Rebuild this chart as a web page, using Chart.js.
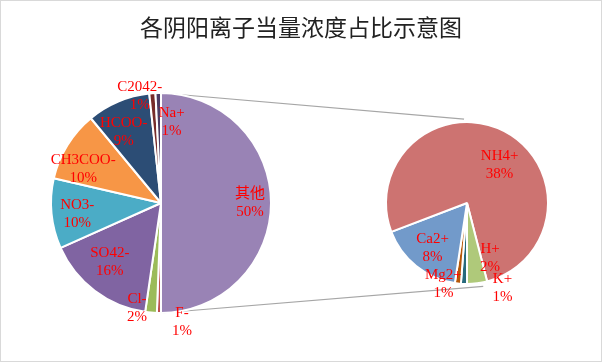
<!DOCTYPE html>
<html>
<head>
<meta charset="utf-8">
<script src="https://cdn.jsdelivr.net/npm/chart.js@4"></script>
<style>
  body { margin: 0; background: #fff; }
  #wrap { width: 602px; height: 362px; box-sizing: border-box; border: 1px solid #d9d9d9; }
  canvas { display: block; }
</style>
</head>
<body>
<div id="wrap"><canvas id="ionChart" width="600" height="360"></canvas></div>
<script>
const titleText = "各阴阳离子当量浓度占比示意图";
const otherLabel = "其他";
// first pie, clockwise after the "other" slice
const mainLabels = ["F-", "Cl-", "SO42-", "NO3-", "CH3COO-", "HCOO-", "C2042-", "Na+"];
const mainValues = [0.6, 1.7, 16.0, 10.3, 10.4, 9.3, 0.9, 0.8];
// second pie, clockwise from 6 o'clock
const subLabels = ["K+", "Mg2+", "Ca2+", "NH4+", "H+"];
const subValues = [0.6, 0.6, 8.4, 38.4, 2.0];

const otherColor = "#9983b5";
const mainColors = ["#c0504d", "#9bbb59", "#8064a2", "#4bacc6", "#f79646", "#2c4d75", "#772c2a", "#4d3b62"];
const subColors = ["#276a7c", "#b65708", "#729aca", "#cd7371", "#afc97a"];

// where the two pies sit on the canvas
const GEOM = {
  main: { x: 160, y: 202, r: 110 },
  sub: { x: 466, y: 202, r: 81 },
  linkTop: -92,
  linkBottom: 79
};

// label shifts from each slice's centre point
const mainNudge = [[34, 0], [22, 64], [-19, 50], [-18, 15], [-29, 6], [-31, -5], [-16, -20], [-17, -52], [12, -26]];
const subNudge = [[37, 45], [-19, 41], [-9, 14], [14, -2], [18, 15]];

const otherValue = subValues.reduce((s, v) => s + v, 0);
const grandTotal = otherValue + mainValues.reduce((s, v) => s + v, 0);
const labelFont = "15px 'Liberation Serif', 'Times New Roman', 'Noto Sans CJK SC', serif";

const pieOfPie = {
  id: "pieOfPie",
  afterDatasetsUpdate(chart) {
    [GEOM.main, GEOM.sub].forEach((g, i) => {
      chart.getDatasetMeta(i).data.forEach((arc) => {
        arc.x = g.x;
        arc.y = g.y;
        arc.innerRadius = 0;
        arc.outerRadius = g.r;
      });
    });
  },
  beforeDatasetsDraw(chart) {
    const ctx = chart.ctx;
    const m = GEOM.main;
    const s = GEOM.sub;
    const rad = (d) => (d * Math.PI) / 180;
    ctx.save();
    ctx.strokeStyle = "#a6a6a6";
    ctx.lineWidth = 1.2;
    ctx.beginPath();
    ctx.moveTo(m.x, m.y - m.r);
    ctx.lineTo(s.x + (s.r + 3) * Math.cos(rad(GEOM.linkTop)), s.y + (s.r + 3) * Math.sin(rad(GEOM.linkTop)));
    ctx.moveTo(m.x, m.y + m.r);
    ctx.lineTo(s.x + (s.r + 4) * Math.cos(rad(GEOM.linkBottom)), s.y + (s.r + 4) * Math.sin(rad(GEOM.linkBottom)));
    ctx.stroke();
    ctx.restore();
  },
  afterDatasetsDraw(chart) {
    const ctx = chart.ctx;
    ctx.save();
    ctx.font = labelFont;
    ctx.fillStyle = "#ff0000";
    ctx.textAlign = "center";
    ctx.textBaseline = "middle";
    [mainNudge, subNudge].forEach((nudge, i) => {
      const ds = chart.data.datasets[i];
      chart.getDatasetMeta(i).data.forEach((arc, j) => {
        const p = arc.tooltipPosition();
        const x = p.x + nudge[j][0];
        const y = p.y + nudge[j][1];
        const pct = Math.round((ds.data[j] / grandTotal) * 100) + "%";
        ctx.fillText(ds.names[j], x, y - 9);
        ctx.fillText(pct, x, y + 9);
      });
    });
    ctx.restore();
  }
};

new Chart(document.getElementById("ionChart"), {
  type: "pie",
  data: {
    labels: [otherLabel, ...mainLabels],
    datasets: [
      {
        data: [otherValue, ...mainValues],
        names: [otherLabel, ...mainLabels],
        backgroundColor: [otherColor, ...mainColors],
        borderColor: "#fff",
        borderWidth: 2
      },
      {
        data: subValues,
        names: subLabels,
        backgroundColor: subColors,
        borderColor: "#fff",
        borderWidth: 2,
        rotation: 180
      }
    ]
  },
  options: {
    responsive: false,
    animation: false,
    events: [],
    plugins: {
      legend: { display: false },
      tooltip: { enabled: false },
      title: {
        display: true,
        text: titleText,
        color: "#222",
        font: { family: "'Noto Sans CJK SC', sans-serif", size: 23, weight: "normal" },
        padding: { top: 12, bottom: 4 }
      }
    }
  },
  plugins: [pieOfPie]
});
</script>
</body>
</html>
